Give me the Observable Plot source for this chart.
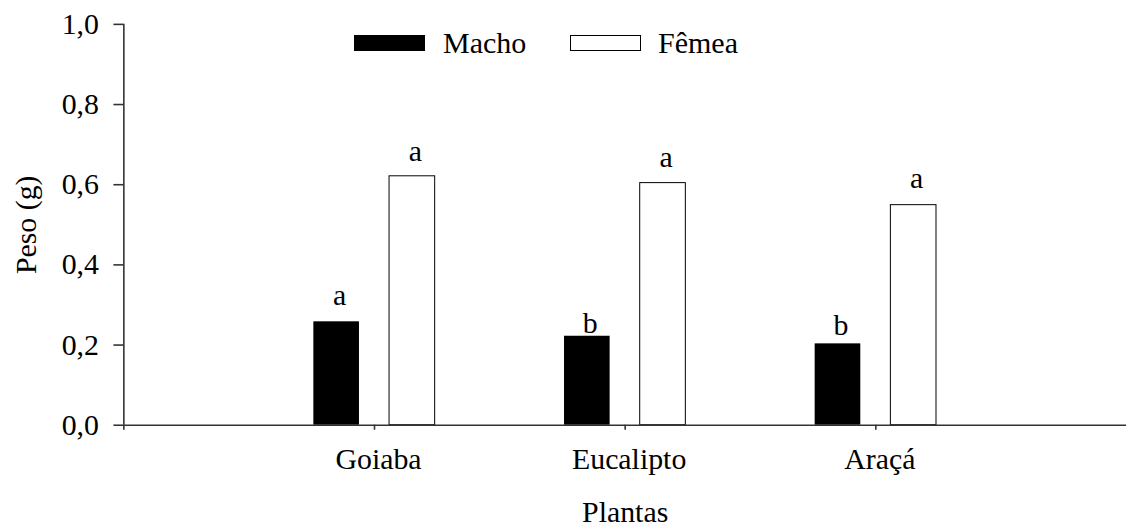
<!DOCTYPE html>
<html><head><meta charset="utf-8">
<script src="https://cdn.jsdelivr.net/npm/d3@7"></script>
<script src="https://cdn.jsdelivr.net/npm/@observablehq/plot@0.6"></script>
<style>
body{margin:0;background:#fff;overflow:hidden;width:1126px;height:527px;}
#wrap{position:relative;width:1126px;height:527px;overflow:hidden;font-family:"Liberation Serif","Tinos","Times New Roman","Times","Nimbus Roman","DejaVu Serif",serif;}
.sw{position:absolute;top:35px;height:16px;width:71px;box-sizing:border-box;}
.lt{position:absolute;top:28px;font-size:30px;line-height:30px;color:#000;white-space:nowrap;}
</style></head><body><div id="wrap"></div>
<script>
const plantas = ["Goiaba", "Eucalipto", "Araçá"];
const sexos = ["Macho", "Fêmea"];
const macho = [0.258, 0.222, 0.203];
const femea = [0.621, 0.604, 0.549];
const letrasMacho = ["a", "b", "b"];
const letrasFemea = ["a", "a", "a"];
const posLetraMacho = [0.301, 0.229, 0.225];
const posLetraFemea = [0.658, 0.643, 0.591];
const yTicks = [0, 0.2, 0.4, 0.6, 0.8, 1.0];

const rows = [];
plantas.forEach((p, i) => {
  rows.push({planta: p, sexo: sexos[0], valor: macho[i], letra: letrasMacho[i], posLetra: posLetraMacho[i], pos: i + 1, side: -1});
  rows.push({planta: p, sexo: sexos[1], valor: femea[i], letra: letrasFemea[i], posLetra: posLetraFemea[i], pos: i + 1, side: 1});
});
const inner = 0.06, outer = 0.242;
const x1 = d => d.side < 0 ? d.pos - outer : d.pos + inner;
const x2 = d => d.side < 0 ? d.pos - inner : d.pos + outer;
const xc = d => (x1(d) + x2(d)) / 2;
const fmt = v => v.toFixed(1).replace(".", ",");
const FS = 30;
const FONT = '"Liberation Serif","Tinos","Times New Roman","Times","Nimbus Roman","DejaVu Serif",serif';

const chart = Plot.plot({
  width: 1132,
  height: 527,
  marginLeft: 124,
  marginRight: 0,
  marginTop: 24,
  marginBottom: 100,
  style: {fontFamily: FONT, fontSize: "30px", background: "white", color: "black", overflow: "visible"},
  x: {domain: [0, 4]},
  y: {domain: [0, 1]},
  marks: [
    Plot.rectY(rows.filter(d => d.sexo === sexos[0]), {x1, x2, y1: 0, y2: "valor", fill: "black"}),
    Plot.rectY(rows.filter(d => d.sexo === sexos[1]), {x1, x2, y1: 0, y2: "valor", fill: "white", stroke: "black", strokeWidth: 1}),
    Plot.text(rows, {x: xc, y: "posLetra", text: "letra", lineAnchor: "bottom", fontSize: FS, fontFamily: FONT, dx: 3, fill: "black"}),
    Plot.ruleX([0], {stroke: "#333", strokeWidth: 1.6}),
    Plot.ruleY([0], {stroke: "#333", strokeWidth: 1.6}),
    Plot.axisY({ticks: yTicks, tickFormat: fmt, tickSize: 10, tickPadding: 15, fontSize: FS, fontFamily: FONT, label: null, stroke: "#333", strokeWidth: 1.6, fill: "black"}),
    Plot.axisX({ticks: [0, 1, 2, 3], tickFormat: null, text: null, tickSize: 5, label: null, stroke: "#333", strokeWidth: 1.6}),
    Plot.axisX({ticks: [1, 2, 3], tickFormat: d => plantas[d - 1], tickSize: 0, tickPadding: 23, fontSize: FS, fontFamily: FONT, label: null, fill: "black", dx: 4}),
    Plot.text(["Plantas"], {frameAnchor: "bottom", dy: 97, lineAnchor: "bottom", textAnchor: "middle", fontSize: FS, fontFamily: FONT, fill: "black"}),
    Plot.text(["Peso (g)"], {frameAnchor: "left", rotate: -90, dx: -88, lineAnchor: "bottom", textAnchor: "middle", fontSize: FS, fontFamily: FONT, fill: "black"})
  ]
});
const wrap = document.getElementById("wrap");
chart.style.position = "absolute";
chart.style.left = "0";
chart.style.top = "0";
wrap.appendChild(chart);

// legend
const legend = [
  {label: sexos[0], swLeft: 354, txtLeft: 443, fill: "#000", border: "none"},
  {label: sexos[1], swLeft: 570, txtLeft: 658, fill: "#fff", border: "1px solid #000"}
];
legend.forEach(l => {
  const sw = document.createElement("div");
  sw.className = "sw";
  sw.style.left = l.swLeft + "px";
  sw.style.background = l.fill;
  sw.style.border = l.border;
  wrap.appendChild(sw);
  const t = document.createElement("div");
  t.className = "lt";
  t.style.left = l.txtLeft + "px";
  t.textContent = l.label;
  wrap.appendChild(t);
});
</script></body></html>
